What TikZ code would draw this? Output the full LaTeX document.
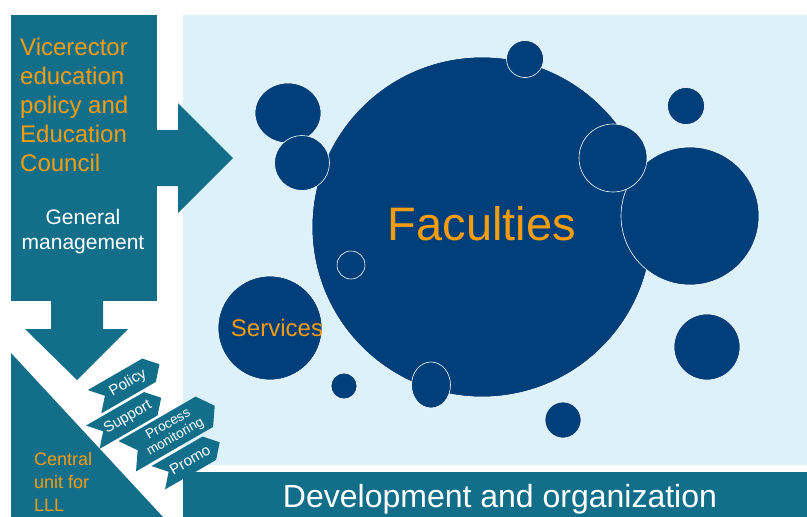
\documentclass[tikz,border=0pt]{standalone}
\usepackage{fontspec}
\setmainfont{Liberation Sans}
\usetikzlibrary{shapes.geometric}
\definecolor{lllteal}{HTML}{136F89}
\definecolor{lllnavy}{HTML}{003F79}
\definecolor{lllsky}{HTML}{DCF1FA}
\definecolor{lllorange}{HTML}{F59D0F}
\newcommand{\fsz}[2]{\fontsize{#1}{#2}\selectfont}
% chevron: centre, length, height, point depth
\newcommand{\chevron}[4]{\fill[lllteal,shift={#1},rotate=30] ({-#2/2},{-#3/2}) -- ({#2/2-#4},{-#3/2}) -- ({#2/2},0)
	-- ({#2/2-#4},{#3/2}) -- ({-#2/2},{#3/2}) -- ({-#2/2+#4},0) -- cycle;}

\begin{document}
\begin{tikzpicture}[x=1pt,y=-1pt,
		bubble/.style={circle,fill=lllnavy,draw=white,line width=0.6pt,inner sep=0pt},
		oval/.style={ellipse,fill=lllnavy,draw=white,line width=0.6pt,inner sep=0pt},
		tagtxt/.style={text=white,inner sep=0pt,rotate=30,align=center,font=\fsz{15}{16}},
		lbl/.style={inner sep=0pt,font=\fsz{24}{29}}]

		\useasboundingbox (0,0) rectangle (807,517);
		\fill[lllsky] (183,15) rectangle (807,465);
		\fill[lllteal] (183,472) rectangle (807,517);
		\fill[lllteal] (11,15) rectangle (157,301);
		\fill[lllteal] (157,130) -- (178,130) -- (178,103) -- (233,158) -- (178,213) -- (178,186) -- (157,186) -- cycle;
		\fill[lllteal] (51,301) -- (51,329) -- (25,329) -- (77,380) -- (128,329) -- (103,329) -- (103,301) -- cycle;
		\fill[lllteal] (11,353) -- (163,517) -- (11,517) -- cycle;

		\node[bubble,minimum size=340pt] (fac) at (482,227) {};
		\node[oval,minimum width=66pt,minimum height=60pt] (tl1) at (288,113) {};
		\node[bubble,minimum size=55pt] (tl2) at (302,163) {};
		\node[bubble,minimum size=37pt] (top) at (525,59) {};
		\node[bubble,minimum size=37pt] (tr) at (686,106) {};
		\node[bubble,minimum size=138pt] (big) at (690,216) {};
		\node[bubble,minimum size=68pt] (mid) at (613,158) {};
		\node[bubble,minimum size=28pt] (ring) at (351,265) {};
		\node[bubble,minimum size=104pt] (srv) at (270,328) {};
		\node[bubble,minimum size=26pt] (dot) at (344,386) {};
		\node[oval,minimum width=39pt,minimum height=46pt] (egg) at (431,385) {};
		\node[bubble,minimum size=36pt] (br) at (563,420) {};
		\node[bubble,minimum size=66pt] (rm) at (707,347) {};

		\node[lbl,text=lllorange,font=\fsz{47}{50}] (factxt) at (482,224) {Faculties};
		\node[lbl,text=lllorange] (srvtxt) at (277,328) {Services};
		\node[lbl,text=white,font=\fsz{32}{36}] (devtxt) at (500,499) {Development and organization};
		\node[lbl,text=lllorange,anchor=north west,align=left] (vicetxt) at (20,38) {Vicerector\\education\\policy and\\Education\\Council};
		\node[lbl,text=white,anchor=north,align=center,font=\fsz{21}{25}] (gentxt) at (83,209) {General\\management};
		\node[lbl,text=lllorange,anchor=north west,align=left,font=\fsz{18}{23}] (lltxt) at (34,452) {Central\\unit for\\LLL};

		\chevron{(127,383)}{75}{27}{12}
		\chevron{(127,417.5)}{79}{27}{12}
		\chevron{(171,431)}{101}{35}{12}
		\chevron{(189,460)}{71}{27}{12}
		\node[tagtxt] (policy) at (128,383) {Policy};
		\node[tagtxt] (support) at (128,417.5) {Support};
		\node[tagtxt,font=\fsz{13.5}{14.5}] (procmon) at (172,431) {Process\\monitoring};
		\node[tagtxt] (promo) at (190,460) {Promo};

\end{tikzpicture}
\end{document}
